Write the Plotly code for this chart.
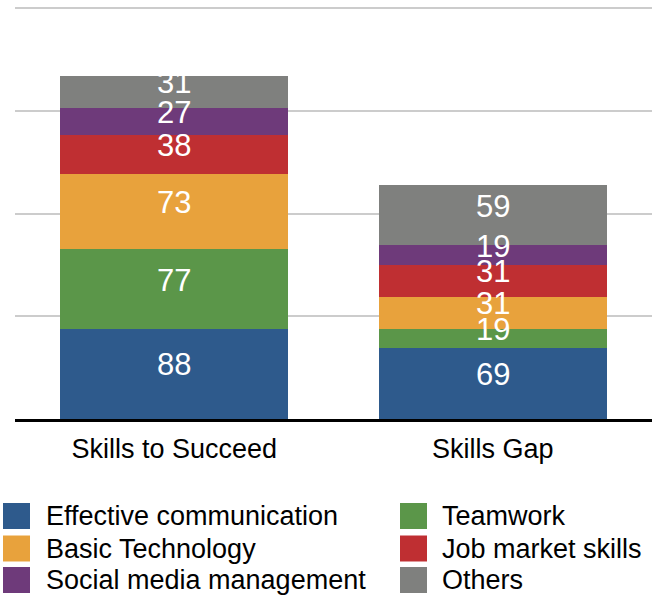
import plotly.graph_objects as go

categories = ["Skills to Succeed", "Skills Gap"]
series_names = ["Effective communication", "Teamwork", "Basic Technology",
                "Job market skills", "Social media management", "Others"]
effective_communication = [88, 69]
teamwork = [77, 19]
basic_technology = [73, 31]
job_market_skills = [38, 31]
social_media_management = [27, 19]
others = [31, 59]
colors = ["#2e5a8c", "#5b9649", "#e8a23c", "#bf2f32", "#6e3a7a", "#7f807e"]

series_values = [effective_communication, teamwork, basic_technology,
                 job_market_skills, social_media_management, others]

FONT = "Liberation Sans, Arial, Helvetica, sans-serif"
W, H = 659, 595
ML, MR, MT, MB = 15, 7, 7, 176
PW, PH = W - ML - MR, H - MT - MB

fig = go.Figure()
annotations = []
bases = [0] * len(categories)
for name, vals, col in zip(series_names, series_values, colors):
    fig.add_trace(go.Bar(
        x=categories, y=vals, name=name,
        marker=dict(color=col, line=dict(width=0)),
        showlegend=False,
    ))
    # value labels placed at each segment's middle (via the axis scales)
    for j, (cat, v) in enumerate(zip(categories, vals)):
        annotations.append(dict(text=str(v), x=cat, y=bases[j] + v / 2,
                                xref="x", yref="y", yshift=9, showarrow=False,
                                xanchor="center", yanchor="middle",
                                font=dict(size=31, family=FONT, color="white")))
        bases[j] += v

# Custom legend (two columns, three rows) built from the series names/colours
def px_x(px):
    return (px - ML) / PW

def px_y(py):
    return (H - MB - py) / PH

col_swatch_x = [3, 400]
col_text_x = [44, 440]
row_y = [516, 548.5, 580]
sw_w, sw_h = 27, 26
shapes = []
for i, (name, col) in enumerate(zip(series_names, colors)):
    c, r = i % 2, i // 2
    sx, cy = col_swatch_x[c], row_y[r]
    shapes.append(dict(type="rect", xref="paper", yref="paper",
                       x0=px_x(sx), x1=px_x(sx + sw_w),
                       y0=px_y(cy + sw_h / 2), y1=px_y(cy - sw_h / 2),
                       fillcolor=col, line=dict(width=0)))
    annotations.append(dict(text=name, xref="paper", yref="paper",
                            x=px_x(col_text_x[c]), y=px_y(cy),
                            xanchor="left", yanchor="middle", showarrow=False,
                            font=dict(size=27, family=FONT, color="black")))

fig.update_layout(
    barmode="stack",
    bargap=0.283,
    width=W, height=H,
    margin=dict(l=ML, r=MR, t=MT, b=MB, autoexpand=False),
    plot_bgcolor="white", paper_bgcolor="white",
    font=dict(family=FONT, size=27, color="black"),
    showlegend=False,
    hovermode=False,
    shapes=shapes,
    annotations=annotations,
    xaxis=dict(showgrid=False, showline=True, linecolor="black", linewidth=2.5,
               ticks="", ticklabelstandoff=4,
               tickfont=dict(size=27, color="black", family=FONT)),
    yaxis=dict(range=[0, 401], tickvals=[100, 200, 300, 400], showgrid=True,
               gridcolor="#cccccc", gridwidth=1.5, showticklabels=False,
               zeroline=False, showline=False),
)

fig.write_html("out.html", config={"displayModeBar": False},
               post_script="document.body.style.margin='0';document.body.style.padding='0';")
